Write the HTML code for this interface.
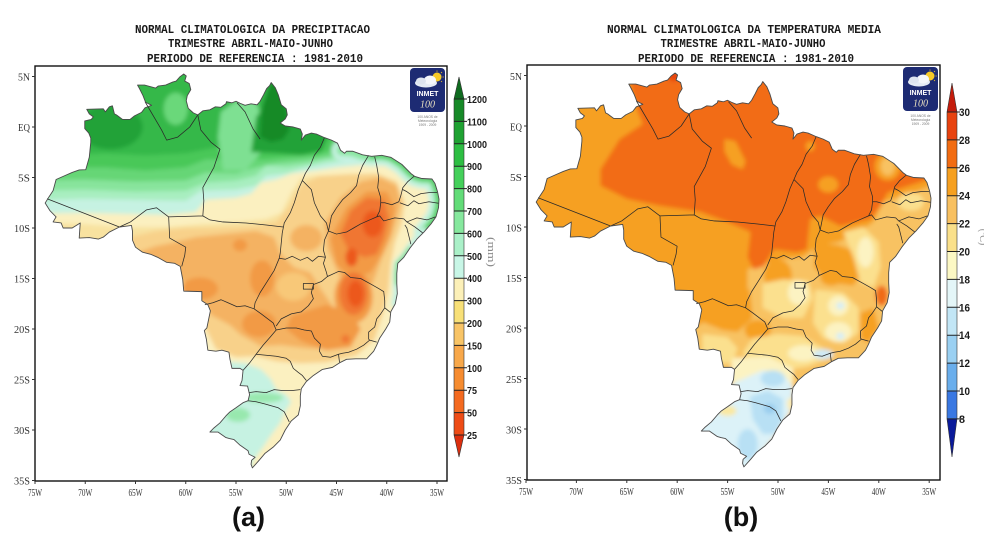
<!DOCTYPE html>
<html><head><meta charset="utf-8"><style>html,body{margin:0;padding:0;background:#fff;}svg{display:block}</style></head>
<body>
<svg width="984" height="545" viewBox="0 0 984 545" xmlns="http://www.w3.org/2000/svg" xmlns:xlink="http://www.w3.org/1999/xlink">
<defs>
<path id="br" d="M-73.99,7.53 L-73.6,6.9 -73.2,6.3 -72.9,5.2 -72,4.8 -71.3,4.5 -70.6,4.25 -69.95,4.23 -69.6,3 -69.45,1.5 -69.45,1.1 -69.65,0.6 -70.05,0.15 -70.05,-0.6 -69.4,-0.75 -69.2,-1 -69.6,-1.3 -69.85,-1.75 -68.2,-1.8 -68,-1.5 -67.6,-2 -67.3,-2.1 -67.1,-1.3 -66.9,-1.2 -66.3,-0.75 -65.55,-0.75 -65.1,-1.1 -64.4,-1.45 -64.05,-1.9 -63.4,-2.15 -64,-2.45 -64.25,-3.1 -64.6,-3.8 -64.8,-4.15 -64.1,-4.15 -63,-3.85 -62.75,-4.05 -62,-4.15 -61.3,-4.45 -60.95,-4.55 -60.6,-4.95 -60.2,-5.25 -59.95,-5.05 -60.1,-4.55 -59.65,-4.3 -59.5,-3.7 -59.85,-3.1 -59.95,-2.6 -59.75,-1.85 -59.25,-1.4 -58.8,-1.2 -58.3,-1.6 -57.6,-1.7 -57.05,-2 -56.5,-1.95 -56,-2.3 -55.95,-2.5 -55.4,-2.4 -55,-2.55 -54.6,-2.35 -54.1,-2.15 -53.5,-2.3 -52.9,-2.2 -52.6,-2.55 -52.25,-3.2 -51.95,-3.8 -51.65,-4.1 -51.5,-4.4 -51.1,-3.9 -50.8,-3.2 -50.5,-2.2 -50,-1.8 -49.9,-1.2 -50.1,-0.8 -50.6,-0.4 -50.1,-0.1 -49.3,0 -48.6,0.2 -48.4,0.7 -48.5,1.3 -48.1,0.8 -47.5,0.6 -47,0.7 -46.2,1.05 -45.5,1.3 -44.9,1.6 -44.6,2.3 -44.2,2.6 -44,2.4 -43.4,2.4 -42.4,2.75 -41.5,2.9 -40.5,2.8 -39.6,3 -38.5,3.7 -37.6,4.6 -37.2,4.9 -36.5,5.1 -35.5,5.15 -35.2,5.6 -34.95,6.4 -34.8,7.15 -34.85,8 -35.1,8.9 -35.6,9.6 -36.3,10.4 -37,11.1 -37.7,12 -38.3,12.9 -38.9,13.5 -39,14.5 -39,15.5 -38.95,16.5 -39.15,17.5 -39.6,18.3 -39.7,19.3 -40.1,20 -40.7,20.9 -41,21.6 -41.3,22.2 -42,22.95 -43.1,22.95 -44,23 -44.7,23.35 -45.4,23.8 -46.4,24 -47.3,24.6 -48,25.2 -48.5,25.9 -48.6,26.6 -48.6,27.6 -48.8,28.5 -49.5,29.1 -50.1,30 -50.6,31 -51.3,31.7 -52.1,32.3 -52.7,33 -53.37,33.75 -53.5,33.4 -53.45,33 -53.1,32.7 -53.7,32.4 -53.8,32.05 -54.6,31.5 -55.2,30.95 -55.65,30.85 -56,30.75 -56.8,30.2 -57.6,30.2 -57.2,29.8 -56.6,29.3 -56,28.6 -55.6,28.2 -55,27.8 -54.3,27.3 -53.8,27.1 -53.65,26.5 -53.85,25.65 -54.6,25.6 -54.4,25.1 -54.3,24.1 -54.6,23.9 -55.4,23.9 -55.6,23 -55.7,22.3 -56.4,22.1 -57,22.2 -57.8,22.1 -57.95,21 -58.15,20.15 -57.9,19.9 -57.55,18.2 -57.8,17.6 -58.4,17.2 -58.4,16.3 -60.2,16.25 -60.3,15.1 -60.55,13.8 -61.1,13.5 -61.9,13.4 -62.8,12.9 -63.5,12.6 -64.3,12.4 -65,11.9 -65.3,11.2 -65.3,10.3 -65.4,9.75 -66.6,9.9 -67.6,10.4 -68.2,10.9 -68.7,11.1 -69.6,10.95 -70.6,11 -70.5,9.5 -71.3,10 -72.2,10 -72.4,9.5 -73.2,9.4 -72.9,8.9 -73.5,8.3 Z"/>
<clipPath id="cp"><use href="#br" xlink:href="#br"/></clipPath>
<filter id="bl" filterUnits="userSpaceOnUse" x="-80" y="-10" width="52" height="50"><feGaussianBlur stdDeviation="0.2"/></filter>
<path id="bd" d="M-73.8,7.1 L-66.6,9.9
M-66.6,9.9 L-65.5,9.4 -63.9,8.2 -62.9,8 -61.7,8.9 -61.6,11 -60,11.9 -60.1,12.7 -60.4,13.8
M-61.7,8.9 L-58.3,8.8 -58.2,7.3
M-58.3,8.8 L-57.6,9.2 -56.3,9.4 -54,9.5 -52,9.7 -50.3,9.9
M-58.8,-1.2 L-58.5,0.3 -57.5,1.5 -56.6,2.2 -57.2,4 -58.3,6 -58.2,7.3
M-64.05,-2.5 L-62.4,0.3 -61.9,1.3 -60.8,1 -59.6,0 -58.8,-1.2
M-54.9,-2.4 L-54.1,-1.5 -53.3,0.2 -52.6,1.2
M-46.2,1.05 L-46.6,2 -47.2,2.8 -47.6,3.8 -48.1,4.6 -48.4,5.3 -48.8,6.2 -49.2,7.5 -49.6,8.5 -50.2,9.5 -50.4,10.5 -50.6,12.5 -50.7,13 -51.2,14.2 -51.9,15.3 -52.6,16.4 -53.1,17.4 -53.2,18 -52.5,18.5 -51.3,19.4 -51,20.1
M-48.4,5.3 L-47.5,6.2 -47.2,7.5 -46.6,8.8 -46,9.5 -45.8,10.3
M-41.8,2.8 L-42.4,3.8 -42.8,4.8 -43,5.8 -43.6,6.5 -44.4,7.2 -45,8 -45.5,8.8 -45.8,10.3
M-41.2,2.95 L-41,3.8 -40.8,5 -40.9,6 -40.6,7 -40.6,7.5
M-40.6,7.5 L-40.7,8.3 -41,8.9 -41.7,9.2 -42.6,9.6 -43.3,10 -44,10.4 -45,10.6 -45.8,10.3
M-37.25,4.85 L-37.9,5.4 -38.4,6 -38.6,6.8 -38.8,7.4 -39.5,7.7 -40.2,7.5 -40.6,7.5
M-35,6.5 L-35.8,6.5 -36.6,6.6 -37.3,6.9 -38,6.4 -38.4,6.2
M-34.85,7.55 L-35.8,7.4 -36.8,7.6 -37.3,7.3 -37.9,7.8 -38.7,7.5
M-35.15,8.9 L-36,9.2 -37,9 -38,9.4
M-36.4,10.5 L-37.2,9.9 -38,9.4 -38.3,9.1 -39.2,9 -40.3,9.3 -40.7,8.8 -41,8.9
M-37.6,11.6 L-37.8,10.8 -38,10 -38.2,9.7
M-45.8,10.3 L-46.2,11.2 -46.3,12.2 -46.1,12.9 -46.3,13.5 -46,14.4 -45.9,14.8
M-45.9,14.8 L-44.8,14.3 -44.2,14.4 -43.6,14.9 -42.6,15 -41.5,15.6 -40.8,16 -40.3,16.3 -40.2,17.2 -40.2,17.9 -39.65,18.35
M-40.2,17.9 L-40.6,18.5 -41,19 -41.2,19.8 -41.8,20.3 -41.8,21 -41.7,21.1
M-41,21.3 L-41.7,21.1
M-41.7,21.1 L-42.3,21.6 -43,22 -43.8,22.3 -44.4,22.4 -44.8,22.5
M-44.8,22.5 L-44.7,23.3
M-44.8,22.5 L-45.6,22.8 -46.4,22.7 -46.7,22.2 -46.6,21.5 -47.2,20.9 -47.5,20.2 -48.2,20.1 -49,19.9 -50,19.9 -51,20.1
M-45.9,14.8 L-46.5,15.3 -47.3,15.6 -47.5,16.4 -47.3,17 -47.8,17.7 -48.5,18.3 -49.5,18.5 -50.5,19 -51,19.7
M-51,20.1 L-51.6,20.8 -52.3,21.6 -53,22.5
M-53,22.5 L-52,22.6 -51,22.7 -50,22.9 -49.6,23.2 -49.3,23.9 -48.8,24.3 -48.4,24.6 -48,25.1
M-53,22.5 L-53.6,23.3 -54.3,24.1
M-53.7,26.3 L-53,26.2 -52,26.3 -51.2,26 -50.3,26.1 -49.5,26.1 -48.6,26
M-53.8,27.1 L-53,27.2 -52.2,27.4 -51.5,27.6 -50.8,27.8 -50.2,28.2 -49.7,29.2
M-58.1,17.6 L-57.3,17.4 -56.5,17.1 -55.8,17.4 -54.9,17.8 -54.1,17.7 -53.2,18
M-50.7,13 L-50.1,13.1 -49.4,12.8 -48.6,13.2 -47.9,12.9 -47.4,13.3 -46.8,12.8 -46.1,12.9
M-48.3,15.5 L-47.3,15.5 -47.3,16.05 -48.3,16.05 Z"/>
</defs>

<rect width="984" height="545" fill="#fff"/>

<!-- ================= LEFT PANEL ================= -->
<g font-family="'Liberation Mono', monospace" font-weight="bold" font-size="11.5" fill="#1a1a1a" text-anchor="middle">
<text x="252.5" y="33" textLength="235" lengthAdjust="spacingAndGlyphs">NORMAL CLIMATOLOGICA DA PRECIPITACAO</text>
<text x="250.5" y="47" textLength="165" lengthAdjust="spacingAndGlyphs">TRIMESTRE ABRIL-MAIO-JUNHO</text>
<text x="255" y="62" textLength="216" lengthAdjust="spacingAndGlyphs">PERIODO DE REFERENCIA : 1981-2010</text>
</g>

<g transform="matrix(10.05 0 0 10.1 788.75 127)">
 <g clip-path="url(#cp)">
  <g filter="url(#bl)">
   <rect x="-76" y="-7" width="44" height="42" fill="#fbf0c0"/>
   <path fill="#f8e2a0" d="M-76,9.4 L-70,9.6 -66,9.9 -62,9.9 -58.5,9.6 -55,9.4 -52,9.1 -50.5,8.5 -49.5,6.5 -48.5,5 -47,4.8 -45,4.7 -43,4.6 -42,4.8 -42,12 -76,12 Z"/>
   <path fill="#f8d18a" d="M-66,11 L-63,10.3 -60,10 -57,10 -53,9.8 -51,9.4 -49.8,8 -48.6,5.8 -46.8,4.9 -44,4.7 -41,4.6 -39,5.4 -38.2,7.5 -38.5,9.5 -39.2,11.5 -39.6,13.5 -39.8,16 -40.4,18.5 -41.2,21 -43,22.6 -46,23.3 -48.5,23.4 -51,23.2 -53,22.7 -55,22.8 -57,22 -58.5,19 -60,16.5 -62,14.2 -64.5,13 Z"/>
   <path fill="#f4b262" d="M-65,12.5 L-63,11.8 -61.5,11.5 -59,10.9 -56,10.6 -53,10.3 -51.2,10.9 -50.6,12.5 -49.2,13.9 -47.6,14.4 -46.6,16 -45.6,17.4 -44.6,19.4 -43.6,21.4 -45.5,22 -48,21.9 -50.5,21.6 -52.5,21.7 -54.5,20.6 -55.6,19.6 -57.5,18.6 -58.6,17 -60,15.6 -61.5,14.1 -63,13.5 -65,13.2 Z"/>
   <path fill="#f4b262" d="M-46.2,9.6 L-44.6,7 -42.6,5.4 -40.6,5 -39,5.8 -38.6,7.5 -39,9 -39.6,11 -40.5,13 -41.4,15.5 -43,16 -44.8,14.6 -45.9,12 Z"/>
   <ellipse fill="#f4b262" cx="-48" cy="11" rx="1.6" ry="1.3"/>
   <ellipse fill="#f8c878" cx="-49.3" cy="15.8" rx="1.7" ry="1.4"/>
   <g fill="#f29a44">
    <ellipse cx="-52.4" cy="15" rx="1.2" ry="1.8"/>
    <ellipse cx="-58.6" cy="16" rx="1.8" ry="1.1"/>
    <ellipse cx="-54.6" cy="11.7" rx="0.7" ry="0.6"/>
    <ellipse cx="-52.7" cy="19.5" rx="1.7" ry="1.3"/>
    <path d="M-49.5,18.7 L-46,17.6 -43.5,18.4 -42.6,20 -43.6,21.8 -46,22.1 -48.5,21.2 -50,20 Z"/>
    <path d="M-45.6,11 L-44,8 -42,6.4 -40,6.4 -39.2,8 -39.6,10.5 -40.4,12.5 -41.6,14.4 -43.5,15 -45,13.6 Z"/>
    <ellipse cx="-43.3" cy="16.8" rx="1.9" ry="2.6"/>
   </g>
   <g fill="#f07632">
    <path d="M-44.6,10.6 L-43.6,8.3 -42,7 -40.3,7.2 -39.8,9 -40.3,11 -41,12.6 -42.2,12.9 -43.8,12.2 Z"/>
    <ellipse cx="-43.3" cy="16.5" rx="1.4" ry="2.1"/>
    <ellipse cx="-44.1" cy="21" rx="0.4" ry="0.4"/>
   </g>
   <g fill="#ec581e">
    <ellipse cx="-41.4" cy="9.6" rx="1" ry="1.3"/>
    <ellipse cx="-43.5" cy="12.9" rx="0.6" ry="0.9"/>
    <ellipse cx="-43.1" cy="16.5" rx="0.8" ry="1.3"/>
   </g>
   <path fill="#c6f2e2" d="M-56,23.2 L-54,23.4 -52.5,24 -51.5,25 -51,26 -50,26.5 -49.5,27.2 -50.2,28.3 -50.6,29.3 -51.5,30.5 -52.3,31.7 -53.3,33 -53.6,34.5 -58,34.5 -58,27 Z"/>
   <ellipse fill="#98e8ae" cx="-52.3" cy="26.8" rx="2" ry="0.5"/>
   <ellipse fill="#98e8ae" cx="-54.8" cy="28.5" rx="1.2" ry="0.7"/>
   <!-- greens -->
   <path fill="#c6f2e2" d="M-76,-7 L-30,-7 -30,3 -37,4.8 -38,4.2 -39,3.8 -41,3.6 -43,3.8 -45,4 -47,4.3 -48,4.4 -49.5,4.6 -51,5.2 -52.5,5.5 -53.5,6.6 -55,7 -58,7.2 -59,8.4 -62,8.7 -66,8.6 -70,8.5 -76,8.6 Z"/>
   <path fill="#a8eec0" d="M-76,-7 L-30,-7 -30,2.6 -38,3.3 -40,3.1 -42,3.2 -44,3.3 -46,3.6 -48,4 -50,4.6 -52,4.8 -53,5.8 -55,6.2 -58.5,6.3 -60,7.3 -65,7.2 -70,7.1 -76,7.3 Z"/>
   <path fill="#88e49c" d="M-76,-7 L-30,-7 -30,2.4 -40,2.8 -42,2.8 -44,2.9 -46,3.2 -48,3.7 -50,4 -52,3.8 -53,4.8 -55,5.3 -58,5.5 -60,6.3 -65,6.4 -70,6.2 -76,6.3 Z"/>
   <path fill="#66d676" d="M-76,-7 L-30,-7 -30,2.2 -41,2.4 -43,2.5 -45,2.8 -48,3.3 -51,3.6 -53,4 -55,4.6 -58,4.5 -60,5.3 -65,5.4 -70,5.2 -76,5.3 Z"/>
   <path fill="#48c858" d="M-76,-7 L-44,-7 -43,1.8 -45,2.2 -47,2.8 -50,3 -52,3.2 -55,3.2 -58,3.2 -60,4 -64,4.3 -68,4 -72,4 -76,4.2 Z"/>
   <path fill="#34b848" d="M-76,-7 L-45,-7 -45,0.8 -46,1 -48,1.4 -50,1.6 -52,1.8 -54,1.8 -57,2 -60,2.6 -64,2.8 -68,2.6 -72,2.8 -76,3 Z"/>
   <path fill="#7ee092" d="M-56.3,4.3 L-54,4.3 -52.5,2.5 -52.3,0 -52.8,-2 -53.2,-2.6 -55,-2.6 -56.5,-1.5 -56.8,1 Z"/>
   <ellipse fill="#6ad87a" cx="-61" cy="-1.8" rx="1.2" ry="1.6"/>
   <ellipse fill="#22a238" cx="-67.5" cy="0" rx="3.2" ry="2.2"/>
   <path fill="#22a238" d="M-53.5,2.5 L-53,-1 -52,-2.2 -50.5,-2.2 -48,-1.4 -46.5,-1 -45.8,0.8 -46.5,2.4 -48.5,2.8 -51,2.6 Z"/>
   <path fill="#128a28" d="M-52.6,1 L-52.4,-2 -51.6,-4.5 -50.6,-4.3 -50,-1.8 -49.7,0.3 -50.3,1.2 -51.5,1.5 Z"/>
   <!-- coast strips -->
   <g fill="none" stroke-linejoin="round" stroke-linecap="round">
    <path stroke="#c6f2e2" stroke-width="2.0" d="M-44.5,2.3 L-43.4,2.4 -42.4,2.75 -41.5,2.9 -40.5,2.8 -39.6,3 -38.5,3.7 -37.6,4.6 -37.2,4.9 -36.5,5.1 -35.5,5.15 -35.2,5.6 -34.95,6.4 -34.8,7.15 -34.85,8 -35.1,8.9 -35.6,9.6 -36.3,10.4"/>
    <path stroke="#8ae6a0" stroke-width="1.0" d="M-44.5,2.3 L-43.4,2.4 -42.4,2.75 -41.5,2.9 -40.5,2.8 -39.6,3 -38.5,3.7 -37.6,4.6 -37.2,4.9 -36.5,5.1 -35.5,5.15 -35.2,5.6 -34.95,6.4 -34.8,7.15 -34.85,8 -35.1,8.9 -35.6,9.6 -36.3,10.4"/>
    <path stroke="#4cc85c" stroke-width="0.45" d="M-41.5,2.9 L-40.5,2.8 -39.6,3 -38.5,3.7 -37.6,4.6 -37.2,4.9 -36.5,5.1 -35.5,5.15 -35.2,5.6 -34.95,6.4 -34.8,7.15 -34.85,8 -35.1,8.9 -35.6,9.6 -36.3,10.4 -37,11.1"/>
    <path stroke="#c6f2e2" stroke-width="0.8" d="M-36.3,10.4 L-37,11.1 -37.7,12 -38.3,12.9 -38.9,13.5 -39,14.5 -39,15.5 -38.95,16.5 -39.15,17.5"/>
    <path stroke="#6ad87a" stroke-width="0.35" d="M-37.7,12 L-38.3,12.9 -38.9,13.5 -39,14.5 -39,15.5"/>
   </g>
  </g>
 </g>
 <use href="#bd" xlink:href="#bd" fill="none" stroke="#2a2a2a" stroke-width="0.075" stroke-linejoin="round"/>
 <use href="#br" xlink:href="#br" fill="none" stroke="#4a4a4a" stroke-width="0.09" stroke-linejoin="round"/>
</g>

<!-- left frame & axes -->
<rect x="35" y="66" width="412" height="415" fill="none" stroke="#111" stroke-width="1.4"/>
<g stroke="#333" stroke-width="1">
<path d="M32,76.5H35M32,127H35M32,177.5H35M32,228H35M32,278.5H35M32,329H35M32,379.5H35M32,430H35M32,480.5H35"/>
<path d="M35,481V484M85.25,481V484M135.5,481V484M185.75,481V484M236,481V484M286.25,481V484M336.5,481V484M386.75,481V484M437,481V484"/>
</g>
<g font-family="'Liberation Serif', serif" font-size="11" fill="#333" text-anchor="end">
<text x="30" y="80.5" textLength="12" lengthAdjust="spacingAndGlyphs">5N</text>
<text x="30" y="131" textLength="12" lengthAdjust="spacingAndGlyphs">EQ</text>
<text x="30" y="181.5" textLength="12" lengthAdjust="spacingAndGlyphs">5S</text>
<text x="30" y="232" textLength="16" lengthAdjust="spacingAndGlyphs">10S</text>
<text x="30" y="282.5" textLength="16" lengthAdjust="spacingAndGlyphs">15S</text>
<text x="30" y="333" textLength="16" lengthAdjust="spacingAndGlyphs">20S</text>
<text x="30" y="383.5" textLength="16" lengthAdjust="spacingAndGlyphs">25S</text>
<text x="30" y="434" textLength="16" lengthAdjust="spacingAndGlyphs">30S</text>
<text x="30" y="484.5" textLength="16" lengthAdjust="spacingAndGlyphs">35S</text>
</g>
<g font-family="'Liberation Serif', serif" font-size="11" fill="#333" text-anchor="middle">
<text x="35" y="496" textLength="14" lengthAdjust="spacingAndGlyphs">75W</text>
<text x="85.25" y="496" textLength="14" lengthAdjust="spacingAndGlyphs">70W</text>
<text x="135.5" y="496" textLength="14" lengthAdjust="spacingAndGlyphs">65W</text>
<text x="185.75" y="496" textLength="14" lengthAdjust="spacingAndGlyphs">60W</text>
<text x="236" y="496" textLength="14" lengthAdjust="spacingAndGlyphs">55W</text>
<text x="286.25" y="496" textLength="14" lengthAdjust="spacingAndGlyphs">50W</text>
<text x="336.5" y="496" textLength="14" lengthAdjust="spacingAndGlyphs">45W</text>
<text x="386.75" y="496" textLength="14" lengthAdjust="spacingAndGlyphs">40W</text>
<text x="437" y="496" textLength="14" lengthAdjust="spacingAndGlyphs">35W</text>
</g>

<!-- left logo -->
<g transform="translate(410,68)">
 <rect width="35" height="44" rx="4" fill="#1d2b73"/>
 <circle cx="27" cy="9" r="4.5" fill="#f5c928"/>
 <g stroke="#f5c928" stroke-width="0.8"><path d="M27,2.5V3.8M32.5,9H33.8M31,5L32,4M31,13L32,14"/></g>
 <ellipse cx="16" cy="15" rx="11" ry="4.5" fill="#e4ebf4"/>
 <ellipse cx="20" cy="12" rx="6" ry="4.5" fill="#f4f7fb"/>
 <ellipse cx="11" cy="13" rx="5" ry="3.5" fill="#dde4ef"/>
 <text x="17.5" y="28" font-family="'Liberation Sans', sans-serif" font-size="7" font-weight="bold" fill="#fff" text-anchor="middle">INMET</text>
 <text x="17.5" y="39.5" font-family="'Liberation Serif', serif" font-size="10" font-style="italic" fill="#e8e0c0" text-anchor="middle">100</text>
</g>
<g font-family="'Liberation Sans', sans-serif" font-size="3.3" fill="#777" text-anchor="middle">
<text x="427.5" y="118">100 ANOS de</text><text x="427.5" y="122">Meteorologia</text><text x="427.5" y="126">1909 - 2009</text>
</g>

<!-- left colorbar -->
<g>
 <polygon points="454,99 459,77 464,99" fill="#0f6b1f"/>
 <rect x="454" y="99" width="10" height="22.4" fill="#178a28"/>
 <rect x="454" y="121.4" width="10" height="22.4" fill="#1fa232"/>
 <rect x="454" y="143.8" width="10" height="22.4" fill="#2dbe42"/>
 <rect x="454" y="166.2" width="10" height="22.4" fill="#44d05a"/>
 <rect x="454" y="188.6" width="10" height="22.4" fill="#62dc78"/>
 <rect x="454" y="211" width="10" height="22.4" fill="#86e89e"/>
 <rect x="454" y="233.4" width="10" height="22.4" fill="#aaf0c8"/>
 <rect x="454" y="255.8" width="10" height="22.4" fill="#c8f6e6"/>
 <rect x="454" y="278.2" width="10" height="22.4" fill="#fcf0b8"/>
 <rect x="454" y="300.6" width="10" height="22.4" fill="#f8e078"/>
 <rect x="454" y="323" width="10" height="22.4" fill="#f8c466"/>
 <rect x="454" y="345.4" width="10" height="22.4" fill="#f8a84a"/>
 <rect x="454" y="367.8" width="10" height="22.4" fill="#f68c30"/>
 <rect x="454" y="390.2" width="10" height="22.4" fill="#f46a20"/>
 <rect x="454" y="412.6" width="10" height="22.4" fill="#ee4c16"/>
 <polygon points="454,435 459,457 464,435" fill="#dc2e0e"/>
 <polygon points="459,77 464,99 464,435 459,457 454,435 454,99" fill="none" stroke="#333" stroke-width="0.6"/>
 <path stroke="#222" stroke-width="1" d="M454,99H467M454,121.4H467M454,143.8H467M454,166.2H467M454,188.6H467M454,211H467M454,233.4H467M454,255.8H467M454,278.2H467M454,300.6H467M454,323H467M454,345.4H467M454,367.8H467M454,390.2H467M454,412.6H467M454,435H467"/>
 <g font-family="'Liberation Sans', sans-serif" font-weight="bold" font-size="10.5" fill="#1a1a1a">
  <text x="467" y="103" textLength="20" lengthAdjust="spacingAndGlyphs">1200</text>
  <text x="467" y="125.4" textLength="20" lengthAdjust="spacingAndGlyphs">1100</text>
  <text x="467" y="147.8" textLength="20" lengthAdjust="spacingAndGlyphs">1000</text>
  <text x="467" y="170.2" textLength="15" lengthAdjust="spacingAndGlyphs">900</text>
  <text x="467" y="192.6" textLength="15" lengthAdjust="spacingAndGlyphs">800</text>
  <text x="467" y="215" textLength="15" lengthAdjust="spacingAndGlyphs">700</text>
  <text x="467" y="237.4" textLength="15" lengthAdjust="spacingAndGlyphs">600</text>
  <text x="467" y="259.8" textLength="15" lengthAdjust="spacingAndGlyphs">500</text>
  <text x="467" y="282.2" textLength="15" lengthAdjust="spacingAndGlyphs">400</text>
  <text x="467" y="304.6" textLength="15" lengthAdjust="spacingAndGlyphs">300</text>
  <text x="467" y="327" textLength="15" lengthAdjust="spacingAndGlyphs">200</text>
  <text x="467" y="349.4" textLength="15" lengthAdjust="spacingAndGlyphs">150</text>
  <text x="467" y="371.8" textLength="15" lengthAdjust="spacingAndGlyphs">100</text>
  <text x="467" y="394.2" textLength="10" lengthAdjust="spacingAndGlyphs">75</text>
  <text x="467" y="416.6" textLength="10" lengthAdjust="spacingAndGlyphs">50</text>
  <text x="467" y="439" textLength="10" lengthAdjust="spacingAndGlyphs">25</text>
 </g>
 <text x="488" y="252" transform="rotate(90 488 252)" font-family="'Liberation Serif', serif" font-size="11" fill="#8a8a8a" text-anchor="middle" textLength="30" lengthAdjust="spacingAndGlyphs">(mm)</text>
</g>

<text x="248.5" y="526" font-family="'Liberation Sans', sans-serif" font-weight="bold" font-size="27" fill="#111" text-anchor="middle">(a)</text>

<!-- ================= RIGHT PANEL ================= -->
<g font-family="'Liberation Mono', monospace" font-weight="bold" font-size="11.5" fill="#1a1a1a" text-anchor="middle">
<text x="744" y="33" textLength="274" lengthAdjust="spacingAndGlyphs">NORMAL CLIMATOLOGICA DA TEMPERATURA MEDIA</text>
<text x="743" y="47" textLength="165" lengthAdjust="spacingAndGlyphs">TRIMESTRE ABRIL-MAIO-JUNHO</text>
<text x="746" y="62" textLength="216" lengthAdjust="spacingAndGlyphs">PERIODO DE REFERENCIA : 1981-2010</text>
</g>

<g transform="matrix(10.075 0 0 10.1 1281.6 126)">
 <g clip-path="url(#cp)">
  <g filter="url(#bl)">
   <rect x="-76" y="-7" width="44" height="42" fill="#f6a020"/>
   <path fill="#f8c262" d="M-53,14.2 L-50,13.2 -47.5,13 -46,11.8 -44,11.5 -42,10.5 -40.5,9.5 -39.5,7.5 -37,6.8 -35,6 -30,6 -30,35 -60,35 -60,21 -57.5,19.5 -55.5,18.5 -54,18 -53,16.5 Z"/>
   <g fill="#f6a020">
    <path d="M-58.5,17 L-55,17.4 -53.5,17.2 -52.8,16 -52.5,19 -54,20.4 -55.5,20.2 -57,19.6 -58.2,19 Z"/>
    <ellipse cx="-50" cy="14.8" rx="1.4" ry="1.6"/>
    <ellipse cx="-52" cy="20.2" rx="1.3" ry="1"/>
    <path d="M-46.4,11.5 L-44,11.8 -42,12.5 -41.6,14.5 -42.5,15.8 -45,15.5 -46.4,14 Z"/>
    <path d="M-41.8,18.5 L-40.5,18 -40,20 -41,21.5 -41.8,21 Z"/>
    <ellipse cx="-44.7" cy="15" rx="1.1" ry="0.8"/>
   </g>
   <g fill="#fbe08e">
    <path d="M-51.5,15.6 L-49.5,15.2 -47,15.3 -46.5,17 -47.5,19 -49.5,19 -51.5,18 Z"/>
    <path d="M-46.3,16.2 L-43.5,16.5 -42,18 -42,20.5 -43.5,21.5 -45.5,21 -46.5,19.5 Z"/>
    <path d="M-43.5,10.5 L-41.5,10 -40,11.5 -39.8,14 -40.5,16 -41.8,15.5 -42.5,13 Z"/>
    <path d="M-52.5,21 L-50,20.6 -47.5,20.8 -45.5,22 -45,23 -47,23.8 -49.5,24.2 -52,23.5 -53.5,22.5 Z"/>
    <path d="M-57.5,20.6 L-55,20.9 -54,22 -54.5,23.5 -56,23.5 -57.5,22.5 Z"/>
    <ellipse cx="-36.8" cy="7.5" rx="1.3" ry="0.9"/>
   </g>
   <g fill="#fcf3c2">
    <path d="M-54.5,23 L-51,22.8 -48.5,24 -48.5,25.5 -51,26 -53.5,26 -54.8,25 Z"/>
    <ellipse cx="-48" cy="16.5" rx="1" ry="1.2"/>
    <ellipse cx="-44" cy="20.4" rx="1.3" ry="1"/>
    <ellipse cx="-44" cy="17.8" rx="1" ry="1"/>
    <ellipse cx="-41.3" cy="12.5" rx="0.8" ry="1.5"/>
    <ellipse cx="-47.5" cy="22.5" rx="1.5" ry="0.8"/>
   </g>
   <path fill="#dcf2f8" d="M-54.5,25.5 L-51.5,24.2 -49.5,24.5 -48.5,25.8 -48.6,28 -49.5,29.5 -50.5,31 -53.5,34.5 -58,34 -58,27 -55.5,26.5 Z"/>
   <ellipse fill="#cfeaf6" cx="-45.5" cy="22.6" rx="1" ry="0.5"/>
   <ellipse fill="#d4eef8" cx="-43.8" cy="17.8" rx="0.4" ry="0.35"/>
   <ellipse fill="#d4eef8" cx="-43.8" cy="20.8" rx="0.4" ry="0.35"/>
   <g fill="#b8e0f4">
    <path d="M-52.8,26.8 L-51,26.2 -49.5,27 -49.5,29 -50.3,30.5 -51.5,30.5 -52.5,29 Z"/>
    <ellipse cx="-53" cy="31.5" rx="1" ry="1.5"/>
    <ellipse cx="-50.5" cy="25" rx="1.2" ry="0.8"/>
   </g>
   <ellipse fill="#9acdee" cx="-50.8" cy="28" rx="0.6" ry="0.5"/>
   <ellipse fill="#fae8a0" cx="-55" cy="28.2" rx="0.9" ry="0.5"/>
   <ellipse fill="#fbeeb8" cx="-48.8" cy="27.5" rx="0.3" ry="0.6"/>
   <path fill="#f26c12" d="M-67.6,4.3 L-65.7,1.3 -63.4,-0.2 -64,-1.7 -64.7,-4.3 -64.7,-7 -30,-7 -30,5.2 -34.8,5.2 -39.1,6.6 -39.8,7.9 -40.8,9.2 -43.8,9.9 -45.8,8.9 -46.8,9.2 -47.1,11.9 -47.1,12.2 -48.1,12.5 -50.4,12.2 -51.4,13.9 -52.4,14.2 -53,13 -52.7,10.5 -55,9.5 -57.7,8.5 -61.7,7.9 -65,7.2 -67.6,5.9 Z"/>
   <g fill="#f6a020">
    <path d="M-55.3,1.3 L-54.2,1.5 -53.2,3.5 -53.5,4.3 -54.6,3.8 -55.3,2.5 Z"/>
    <ellipse cx="-46.8" cy="2" rx="0.45" ry="0.5"/>
    <ellipse cx="-45" cy="5.8" rx="1" ry="0.8"/>
    <ellipse cx="-39.1" cy="4" rx="1.3" ry="1.4"/>
   </g>
   <ellipse fill="#f8c262" cx="-39.1" cy="4" rx="0.7" ry="0.9"/>
   <ellipse fill="#e8420f" cx="-60.3" cy="-4.9" rx="0.6" ry="0.45"/>
   <ellipse fill="#f06a12" cx="-39.7" cy="16.8" rx="0.6" ry="1"/>
  </g>
 </g>
 <use href="#bd" xlink:href="#bd" fill="none" stroke="#2a2a2a" stroke-width="0.075" stroke-linejoin="round"/>
 <use href="#br" xlink:href="#br" fill="none" stroke="#4a4a4a" stroke-width="0.09" stroke-linejoin="round"/>
</g>

<!-- right frame & axes -->
<rect x="527" y="65" width="413" height="415" fill="none" stroke="#111" stroke-width="1.4"/>
<g stroke="#333" stroke-width="1">
<path d="M524,75.5H527M524,126H527M524,176.5H527M524,227H527M524,277.5H527M524,328H527M524,378.5H527M524,429H527M524,479.5H527"/>
<path d="M526,480V483M576.4,480V483M626.8,480V483M677.2,480V483M727.6,480V483M778,480V483M828.4,480V483M878.8,480V483M929.2,480V483"/>
</g>
<g font-family="'Liberation Serif', serif" font-size="11" fill="#333" text-anchor="end">
<text x="522" y="80" textLength="12" lengthAdjust="spacingAndGlyphs">5N</text>
<text x="522" y="130.5" textLength="12" lengthAdjust="spacingAndGlyphs">EQ</text>
<text x="522" y="181" textLength="12" lengthAdjust="spacingAndGlyphs">5S</text>
<text x="522" y="231.5" textLength="16" lengthAdjust="spacingAndGlyphs">10S</text>
<text x="522" y="282" textLength="16" lengthAdjust="spacingAndGlyphs">15S</text>
<text x="522" y="332.5" textLength="16" lengthAdjust="spacingAndGlyphs">20S</text>
<text x="522" y="383" textLength="16" lengthAdjust="spacingAndGlyphs">25S</text>
<text x="522" y="433.5" textLength="16" lengthAdjust="spacingAndGlyphs">30S</text>
<text x="522" y="484" textLength="16" lengthAdjust="spacingAndGlyphs">35S</text>
</g>
<g font-family="'Liberation Serif', serif" font-size="11" fill="#333" text-anchor="middle">
<text x="526" y="495" textLength="14" lengthAdjust="spacingAndGlyphs">75W</text>
<text x="576.4" y="495" textLength="14" lengthAdjust="spacingAndGlyphs">70W</text>
<text x="626.8" y="495" textLength="14" lengthAdjust="spacingAndGlyphs">65W</text>
<text x="677.2" y="495" textLength="14" lengthAdjust="spacingAndGlyphs">60W</text>
<text x="727.6" y="495" textLength="14" lengthAdjust="spacingAndGlyphs">55W</text>
<text x="778" y="495" textLength="14" lengthAdjust="spacingAndGlyphs">50W</text>
<text x="828.4" y="495" textLength="14" lengthAdjust="spacingAndGlyphs">45W</text>
<text x="878.8" y="495" textLength="14" lengthAdjust="spacingAndGlyphs">40W</text>
<text x="929.2" y="495" textLength="14" lengthAdjust="spacingAndGlyphs">35W</text>
</g>

<!-- right logo -->
<g transform="translate(903,67)">
 <rect width="35" height="44" rx="4" fill="#1d2b73"/>
 <circle cx="27" cy="9" r="4.5" fill="#f5c928"/>
 <g stroke="#f5c928" stroke-width="0.8"><path d="M27,2.5V3.8M32.5,9H33.8M31,5L32,4M31,13L32,14"/></g>
 <ellipse cx="16" cy="15" rx="11" ry="4.5" fill="#e4ebf4"/>
 <ellipse cx="20" cy="12" rx="6" ry="4.5" fill="#f4f7fb"/>
 <ellipse cx="11" cy="13" rx="5" ry="3.5" fill="#dde4ef"/>
 <text x="17.5" y="28" font-family="'Liberation Sans', sans-serif" font-size="7" font-weight="bold" fill="#fff" text-anchor="middle">INMET</text>
 <text x="17.5" y="39.5" font-family="'Liberation Serif', serif" font-size="10" font-style="italic" fill="#e8e0c0" text-anchor="middle">100</text>
</g>
<g font-family="'Liberation Sans', sans-serif" font-size="3.3" fill="#777" text-anchor="middle">
<text x="920.5" y="117">100 ANOS de</text><text x="920.5" y="121">Meteorologia</text><text x="920.5" y="125">1909 - 2009</text>
</g>

<!-- right colorbar -->
<g>
 <polygon points="947,112 952,83 957,112" fill="#c41c0c"/>
 <rect x="947" y="112" width="10" height="27.9" fill="#e8420f"/>
 <rect x="947" y="139.9" width="10" height="27.9" fill="#f26c12"/>
 <rect x="947" y="167.8" width="10" height="27.9" fill="#f6a020"/>
 <rect x="947" y="195.7" width="10" height="27.9" fill="#f8c060"/>
 <rect x="947" y="223.6" width="10" height="27.9" fill="#fae08a"/>
 <rect x="947" y="251.5" width="10" height="27.9" fill="#fcf8c4"/>
 <rect x="947" y="279.4" width="10" height="27.9" fill="#e4f6f8"/>
 <rect x="947" y="307.3" width="10" height="27.9" fill="#c2e6f6"/>
 <rect x="947" y="335.2" width="10" height="27.9" fill="#9ad0f2"/>
 <rect x="947" y="363.1" width="10" height="27.9" fill="#6aaeec"/>
 <rect x="947" y="391" width="10" height="27.9" fill="#3a78e2"/>
 <polygon points="947,418.9 952,457 957,418.9" fill="#0a1a9a"/>
 <polygon points="952,83 957,112 957,418.9 952,457 947,418.9 947,112" fill="none" stroke="#333" stroke-width="0.6"/>
 <path stroke="#222" stroke-width="1" d="M947,112H960M947,139.9H960M947,167.8H960M947,195.7H960M947,223.6H960M947,251.5H960M947,279.4H960M947,307.3H960M947,335.2H960M947,363.1H960M947,391H960M947,418.9H960"/>
 <g font-family="'Liberation Sans', sans-serif" font-weight="bold" font-size="11" fill="#1a1a1a">
  <text x="959" y="116" textLength="11" lengthAdjust="spacingAndGlyphs">30</text>
  <text x="959" y="143.9" textLength="11" lengthAdjust="spacingAndGlyphs">28</text>
  <text x="959" y="171.8" textLength="11" lengthAdjust="spacingAndGlyphs">26</text>
  <text x="959" y="199.7" textLength="11" lengthAdjust="spacingAndGlyphs">24</text>
  <text x="959" y="227.6" textLength="11" lengthAdjust="spacingAndGlyphs">22</text>
  <text x="959" y="255.5" textLength="11" lengthAdjust="spacingAndGlyphs">20</text>
  <text x="959" y="283.4" textLength="11" lengthAdjust="spacingAndGlyphs">18</text>
  <text x="959" y="311.3" textLength="11" lengthAdjust="spacingAndGlyphs">16</text>
  <text x="959" y="339.2" textLength="11" lengthAdjust="spacingAndGlyphs">14</text>
  <text x="959" y="367.1" textLength="11" lengthAdjust="spacingAndGlyphs">12</text>
  <text x="959" y="395" textLength="11" lengthAdjust="spacingAndGlyphs">10</text>
  <text x="959" y="422.9" textLength="6" lengthAdjust="spacingAndGlyphs">8</text>
 </g>
 <text x="980" y="237" transform="rotate(90 980 237)" font-family="'Liberation Serif', serif" font-size="10" fill="#8a8a8a" text-anchor="middle">(ºC)</text>
</g>

<text x="741" y="526" font-family="'Liberation Sans', sans-serif" font-weight="bold" font-size="27" fill="#111" text-anchor="middle">(b)</text>
</svg>
</body></html>
